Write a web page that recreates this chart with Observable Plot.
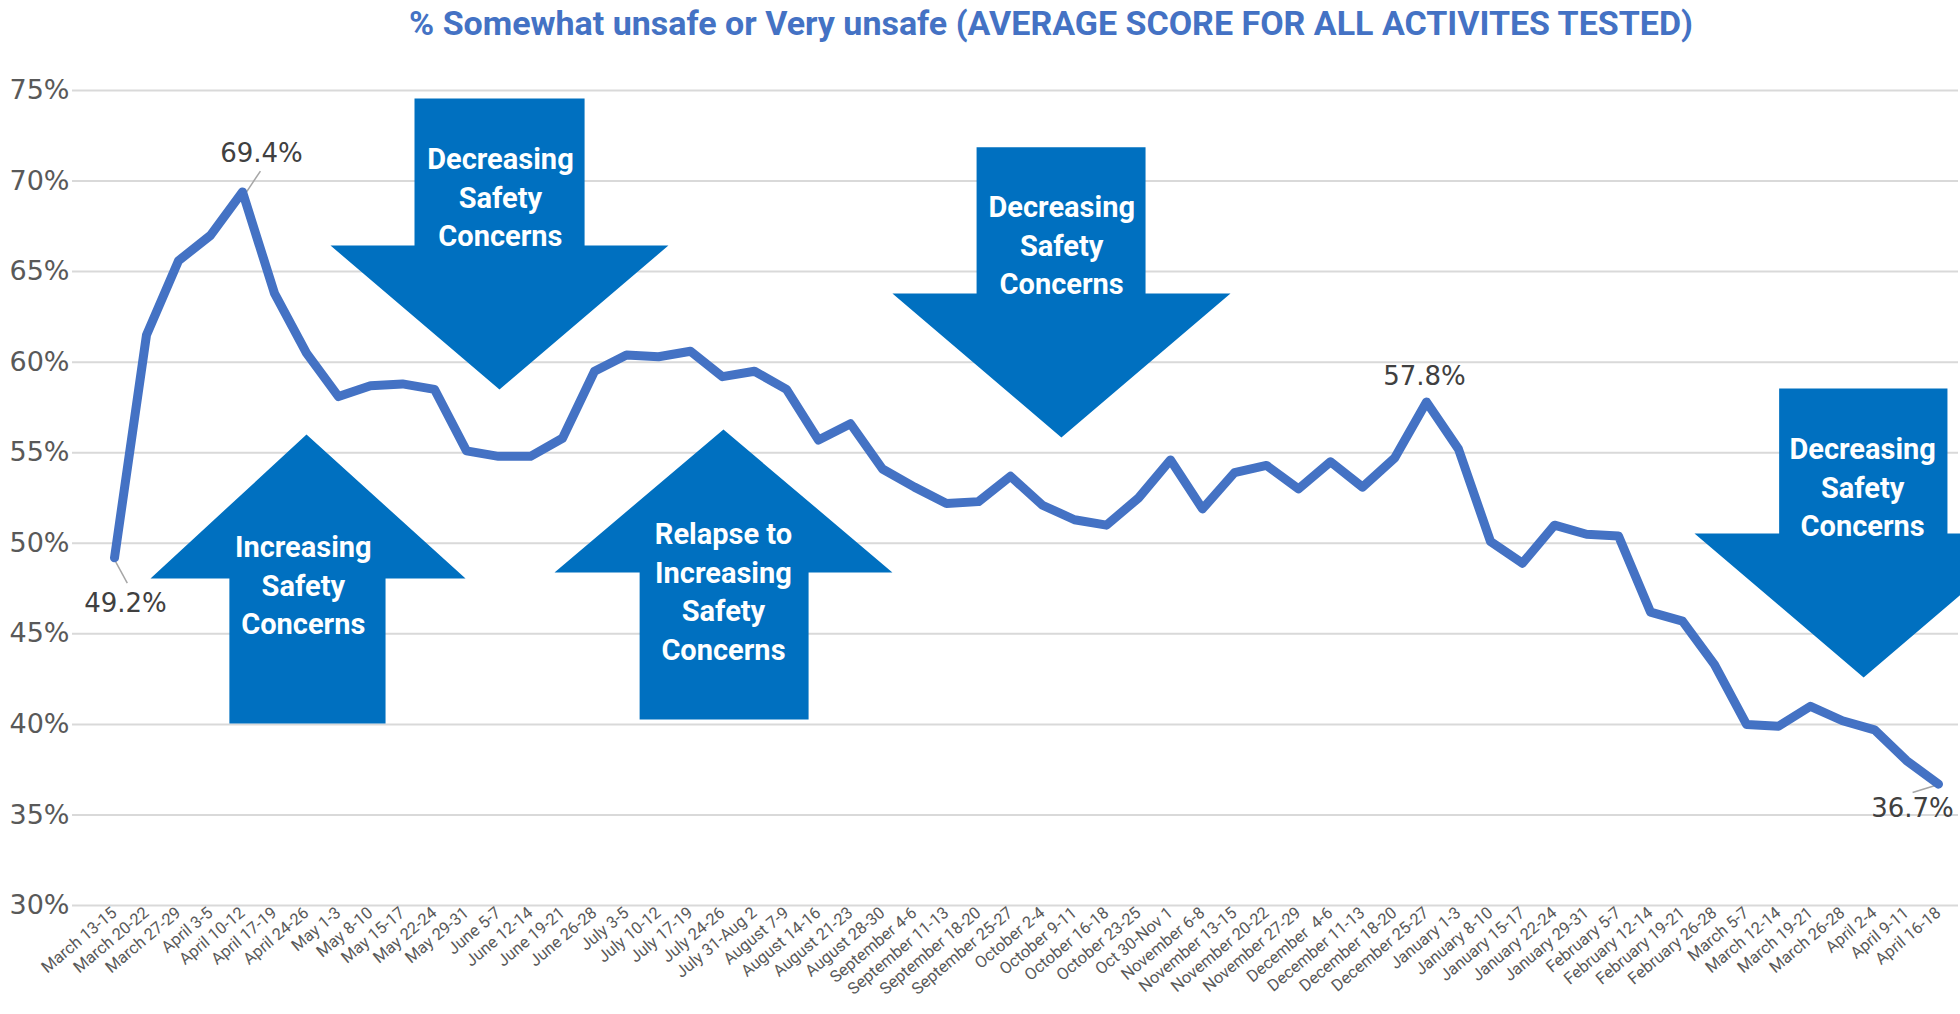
<!DOCTYPE html>
<html><head><meta charset="utf-8">
<script src="https://cdn.jsdelivr.net/npm/d3@7"></script>
<script src="https://cdn.jsdelivr.net/npm/@observablehq/plot@0.6"></script>
<style>
body{margin:0;background:#fff;overflow:hidden;width:1960px;height:1014px;position:relative}
#title{position:absolute;left:1051px;top:0;height:50px;line-height:46px;transform:translateX(-50%);white-space:nowrap;font-family:Roboto,sans-serif;font-weight:700;font-size:34px;color:#4472C4}
#chart{position:absolute;top:50px;left:0}
</style></head><body>
<div id="title">% Somewhat unsafe or Very unsafe (AVERAGE SCORE FOR ALL ACTIVITES TESTED)</div>
<div id="chart"></div>
<script>
const weeks = ["March 13-15","March 20-22","March 27-29","April 3-5","April 10-12","April 17-19","April 24-26","May 1-3","May 8-10","May 15-17","May 22-24","May 29-31","June 5-7","June 12-14","June 19-21","June 26-28","July 3-5","July 10-12","July 17-19","July 24-26","July 31-Aug 2","August 7-9","August 14-16","August 21-23","August 28-30","September 4-6","September 11-13","September 18-20","September 25-27","October 2-4","October 9-11","October 16-18","October 23-25","Oct 30-Nov 1","November 6-8","November 13-15","November 20-22","November 27-29","December  4-6","December 11-13","December 18-20","December 25-27","January 1-3","January 8-10","January 15-17","January 22-24","January 29-31","February 5-7","February 12-14","February 19-21","February 26-28","March 5-7","March 12-14","March 19-21","March 26-28","April 2-4","April 9-11","April 16-18"];
const values = [49.2,61.5,65.6,67.0,69.4,63.8,60.5,58.1,58.7,58.8,58.5,55.1,54.8,54.8,55.8,59.5,60.4,60.3,60.6,59.2,59.5,58.5,55.7,56.6,54.1,53.1,52.2,52.3,53.7,52.1,51.3,51.0,52.5,54.6,51.9,53.9,54.3,53.0,54.5,53.1,54.7,57.8,55.2,50.1,48.9,51.0,50.5,50.4,46.2,45.7,43.3,40.0,39.9,41.0,40.2,39.7,38.0,36.7];
const yTicks = [30,35,40,45,50,55,60,65,70,75];

// labelled points: index, pixel offsets of the label
const dataLabels = [
  {i: 0, dx: 11, dy: 46},
  {i: 4, dx: 19, dy: -38},
  {i: 41, dx: -2, dy: -25},
  {i: 57, dx: -26, dy: 25}
];
// leader lines (data units: week index, percent)
const leaders = [
  {x1: 0.03, y1: 49.0, x2: 0.40, y2: 47.8},
  {x1: 4.05, y1: 69.2, x2: 4.56, y2: 70.55},
  {x1: 56.9, y1: 36.63, x2: 56.19, y2: 36.24}
];
// annotation arrows (data units)
const arrows = [
  {id: "a1", xs: [9.375, 14.69], xh: [6.75, 17.31], xt: 12.03, yEnd: 74.56, yBase: 66.44, yTip: 58.49},
  {id: "a2", xs: [3.59, 8.47], xh: [1.125, 10.97], xt: 6.0, yEnd: 40.05, yBase: 48.06, yTip: 56.0},
  {id: "a3", xs: [16.41, 21.69], xh: [13.75, 24.31], xt: 19.03, yEnd: 40.27, yBase: 48.39, yTip: 56.28},
  {id: "a4", xs: [26.94, 32.22], xh: [24.31, 34.875], xt: 29.59, yEnd: 71.86, yBase: 63.79, yTip: 55.84},
  {id: "a5", xs: [52.02, 57.28], xh: [49.375, 59.94], xt: 54.66, yEnd: 58.55, yBase: 50.54, yTip: 42.59}
];
const arrowTexts = [
  {x: 12.06, y: 69.2, text: "Decreasing\nSafety\nConcerns"},
  {x: 5.9, y: 47.78, text: "Increasing\nSafety\nConcerns"},
  {x: 19.03, y: 47.45, text: "Relapse to\nIncreasing\nSafety\nConcerns"},
  {x: 29.6, y: 66.55, text: "Decreasing\nSafety\nConcerns"},
  {x: 54.63, y: 53.19, text: "Decreasing\nSafety\nConcerns"}
];

const series = values.map((v, i) => ({i, week: weeks[i], v}));
const arrowPts = arrows.flatMap(a => [
  [a.xs[0], a.yEnd], [a.xs[1], a.yEnd], [a.xs[1], a.yBase], [a.xh[1], a.yBase],
  [a.xt, a.yTip], [a.xh[0], a.yBase], [a.xs[0], a.yBase], [a.xs[0], a.yEnd]
].map(([x, y]) => ({id: a.id, x, y})));

const chart = Plot.plot({
  width: 1960,
  height: 964,
  marginLeft: 72,
  marginRight: 2,
  marginTop: 40,
  marginBottom: 109,
  style: {background: "#fff", color: "#595959", fontFamily: "DejaVu Sans, sans-serif", overflow: "visible"},
  x: {type: "linear", domain: [-1.3125, 57.625]},
  y: {domain: [30, 75]},
  marks: [
    Plot.ruleY(yTicks, {stroke: "#d9d9d9", strokeWidth: 2}),
    Plot.axisY({ticks: yTicks, tickFormat: d => d + "%", tickSize: 0, tickPadding: 3, fontSize: 27, label: null, fill: "#595959"}),
    Plot.axisX({ticks: d3.range(weeks.length), tickFormat: i => weeks[i], tickRotate: -40, tickSize: 0, tickPadding: 5, fontSize: 16.5, fontFamily: "Roboto", label: null, fill: "#595959"}),
    Plot.line(arrowPts, {x: "x", y: "y", z: "id", fill: "#0070C0", stroke: "none"}),
    Plot.text(arrowTexts, {x: "x", y: "y", text: "text", fill: "white", fontSize: 29, fontWeight: "bold", fontFamily: "Roboto", lineHeight: 1.33}),
    Plot.link(leaders, {x1: "x1", y1: "y1", x2: "x2", y2: "y2", stroke: "#a6a6a6", strokeWidth: 1.5}),
    Plot.line(series, {x: "i", y: "v", stroke: "#4472C4", strokeWidth: 9, strokeLinejoin: "round", strokeLinecap: "round"}),
    ...dataLabels.map(d => Plot.text([d], {x: "i", y: r => values[r.i], text: r => values[r.i].toFixed(1) + "%", dx: d.dx, dy: d.dy, fontSize: 26, fill: "#404040"}))
  ]
});
document.getElementById("chart").appendChild(chart);
</script>
</body></html>
